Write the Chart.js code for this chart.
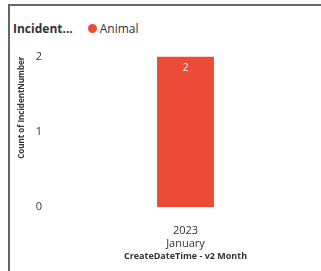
<!DOCTYPE html>
<html>
<head>
<meta charset="utf-8">
<script src="https://cdn.jsdelivr.net/npm/chart.js@4"></script>
<style>
    body { margin: 0; background: #fff; font-family: 'Open Sans', sans-serif; }
    #frame {
        position: absolute; left: 8px; top: 4px; width: 313px; height: 267px;
        border-left: 2px solid #666; border-top: 2px solid #666;
    }
    #legend {
        position: absolute; left: 3px; top: 14px; font-size: 12px; color: #333;
        display: flex; align-items: center; white-space: nowrap;
    }
    #legend .title { font-weight: bold; margin-right: 15px; }
    #legend .dot { width: 9px; height: 9px; border-radius: 50%; background: #EC4B38; margin-right: 3px; }
    #wrap { position: absolute; left: 0; top: 36px; width: 311px; height: 229px; }
</style>
</head>
<body>
<div id="frame">
    <div id="legend"><span class="title">Incident...</span><span class="dot"></span><span>Animal</span></div>
    <div id="wrap"><canvas id="chart"></canvas></div>
</div>
<script>
const categories = [['2023', 'January']];
const seriesName = 'Animal';
const seriesValues = [2];
const yTicks = [0, 1, 2];
const barColor = '#EC4B38';

// white value label just inside the top of each bar
const valueLabels = {
    id: 'valueLabels',
    afterDatasetsDraw(chart) {
        const ctx = chart.ctx;
        chart.getDatasetMeta(0).data.forEach((bar, i) => {
            ctx.save();
            ctx.fillStyle = '#fff';
            ctx.font = '10px "Open Sans"';
            ctx.textAlign = 'center';
            ctx.textBaseline = 'middle';
            ctx.fillText(seriesValues[i], bar.x, bar.y + 12);
            ctx.restore();
        });
    }
};

document.addEventListener('DOMContentLoaded', function() {
    const ctx = document.getElementById('chart').getContext('2d');
    new Chart(ctx, {
        type: 'bar',
        data: {
            labels: categories,
            datasets: [{
                label: seriesName,
                data: seriesValues,
                backgroundColor: barColor,
                barPercentage: 0.21,
                categoryPercentage: 1
            }]
        },
        options: {
            responsive: true,
            maintainAspectRatio: false,
            animation: false,
            layout: { padding: { top: 5, right: 0, left: 0, bottom: 0 } },
            plugins: {
                legend: { display: false },
                tooltip: { enabled: false }
            },
            scales: {
                x: {
                    afterFit(axis) { axis.height = 64; },
                    grid: { display: false, drawTicks: false },
                    border: { display: false },
                    ticks: { color: '#333', font: { size: 11, family: 'Open Sans' }, padding: 17 },
                    title: {
                        display: true,
                        text: 'CreateDateTime - v2 Month',
                        color: '#333',
                        font: { size: 9, weight: 'bold', family: 'Open Sans' },
                        padding: { top: 0, bottom: 9 }
                    }
                },
                y: {
                    min: 0,
                    max: 2,
                    afterBuildTicks(axis) { axis.ticks = yTicks.map(v => ({ value: v })); },
                    afterFit(axis) { axis.width = 40; },
                    grid: { display: false, drawTicks: false },
                    border: { display: false },
                    ticks: { color: '#333', font: { size: 11, family: 'Open Sans' }, padding: 8 },
                    title: {
                        display: true,
                        text: 'Count of IncidentNumber',
                        align: 'end',
                        color: '#333',
                        font: { size: 8, weight: 'bold', family: 'Open Sans' },
                        padding: 7
                    }
                }
            }
        },
        plugins: [valueLabels]
    });
});
</script>
</body>
</html>
